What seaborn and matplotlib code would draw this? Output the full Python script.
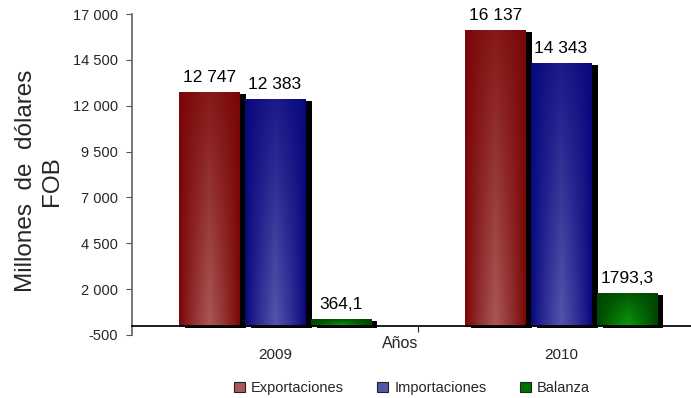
import numpy as np
import pandas as pd
import seaborn as sns
import matplotlib.pyplot as plt
import matplotlib.patheffects as pe
from matplotlib.colors import to_rgb

years = ["2009", "2010"]
series = ["Exportaciones", "Importaciones", "Balanza"]
exportaciones = [12747, 16137]
importaciones = [12383, 14343]
balanza = [364.1, 1793.3]

y_ticks = [-500, 2000, 4500, 7000, 9500, 12000, 14500, 17000]

# dark edge colour / light centre colour per series
dark = {"Exportaciones": "#7a0606", "Importaciones": "#08087e", "Balanza": "#004400"}
light = {"Exportaciones": "#aa5858", "Importaciones": "#5555ac", "Balanza": "#0a9a0a"}

df = pd.DataFrame({
    "Año": years * 3,
    "serie": [s for s in series for _ in years],
    "valor": exportaciones + importaciones + balanza,
})

sns.set_theme(style="white")
plt.rcParams['font.family'] = ['Liberation Sans', 'DejaVu Sans']

fig = plt.figure(figsize=(6.91, 3.98), dpi=100)
ax = fig.add_axes([132 / 691, 1 - 335 / 398, 1 - 132 / 691, (335 - 14) / 398])

sns.barplot(data=df, x="Año", y="valor", hue="serie", hue_order=series,
            palette=[dark[s] for s in series], width=0.69, gap=0.08,
            edgecolor="#444444", linewidth=0.5, ax=ax, legend=True)

handles, labels = ax.get_legend_handles_labels()
ax.get_legend().remove()


def gradient(c_dark, c_light, n=64):
    u = np.linspace(0, 1, n)
    v = np.linspace(0, 1, n)
    U, V = np.meshgrid(u, v)
    h = (1 - np.abs(2 * U - 1)) ** 0.9
    t = h * (1 - 0.75 * V)
    d = np.array(to_rgb(c_dark))
    l = np.array(to_rgb(c_light))
    return d[None, None, :] + t[:, :, None] * (l - d)[None, None, :]


for cont, s in zip(ax.containers, series):
    vals = cont.datavalues
    for bar, v in zip(cont, vals):
        bar.set_path_effects([pe.SimplePatchShadow(offset=(4.5, -1.5), shadow_rgbFace="black", alpha=1.0),
                              pe.Normal()])
        x, y0 = bar.get_x(), bar.get_y()
        w, h = bar.get_width(), bar.get_height()
        im = ax.imshow(gradient(dark[s], light[s]), extent=[x, x + w, y0, y0 + h],
                       origin="lower", aspect="auto", zorder=bar.get_zorder() + 0.1)
        im.set_clip_path(bar)
        if s == "Balanza":
            txt = f"{v:.1f}".replace(".", ",")
        else:
            txt = f"{v:,.0f}".replace(",", " ")
        ax.annotate(txt, (x + w / 2, y0 + h), xytext=(0, 5), textcoords="offset points",
                    ha="center", va="bottom", fontsize=12.5, color="black")

ax.set_xlim(-0.5, -0.5 + (691 - 132) / 286)
ax.set_ylim(-500, 17000)
ax.set_yticks(y_ticks)
ax.set_yticklabels([f"{t:,}".replace(",", " ") for t in y_ticks], fontsize=10.5)
ax.tick_params(axis="y", direction="out", length=4, width=0.8, color="#555555", pad=6, left=True)

ax.spines["top"].set_visible(False)
ax.spines["right"].set_visible(False)
ax.spines["left"].set_color("#666666")
ax.spines["bottom"].set_position(("data", 0))
ax.spines["bottom"].set_color("black")
ax.set_xticks([0, 1])
ax.set_xticklabels(years, fontsize=11)
ax.set_xticks([0.5], minor=True)
ax.tick_params(axis="x", which="major", length=0, pad=16)
ax.tick_params(axis="x", which="minor", direction="out", length=4, width=0.8, bottom=True)
ax.set_xlabel("")
ax.set_ylabel("")

fig.text(400 / 691, 1 - 343 / 398, "Años", ha="center", va="center", fontsize=11.5)
fig.text(39 / 691, 1 - 181 / 398, "Millones  de  dólares\nFOB", rotation=90,
         ha="center", va="center", fontsize=17.5, multialignment="center")

for hd, s in zip(handles, series):
    hd.set_facecolor(light[s] if s != "Balanza" else "#007000")
    hd.set_edgecolor("#222222")
    hd.set_linewidth(0.8)

fig.legend(handles, labels, loc="center", bbox_to_anchor=(412 / 691, 1 - 388 / 398), ncol=3,
           frameon=False, fontsize=10.5, handlelength=0.75, handleheight=0.75,
           handletextpad=0.4, columnspacing=2.3)

fig.savefig("out.png", dpi=100)
